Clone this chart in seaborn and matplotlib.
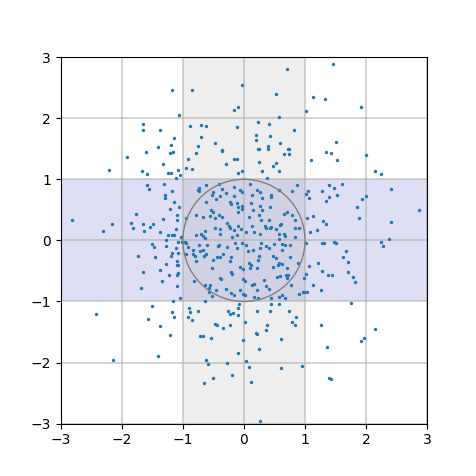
import matplotlib
matplotlib.use("Agg")
import matplotlib.pyplot as plt
import seaborn as sns
import pandas as pd
from matplotlib.patches import Circle

# points (x, y)
pts = [
    (-1.17, 2.46), (-1.07, 2.06), (-1.66, 1.90), (-1.66, 1.80), (-1.38, 1.80), (-1.15, 1.68),
    (-1.19, 1.56), (-1.41, 1.53),
    (0.71, 2.80), (-0.85, 2.46), (-0.04, 2.54), (0.53, 2.39), (-0.09, 2.19), (-0.17, 2.13),
    (0.57, 2.02), (1.01, 2.11), (-0.88, 1.88), (-0.70, 1.89), (-0.62, 1.88), (-0.11, 1.86),
    (0.23, 1.94), (0.41, 1.90), (0.82, 1.80), (0.19, 1.73), (0.42, 1.71), (-0.70, 1.69),
    (0.20, 1.64), (0.59, 1.60), (-0.48, 1.60), (-0.75, 1.55), (0.40, 1.54), (0.23, 1.49),
    (0.72, 1.49), (-0.36, 1.48),
    (1.46, 2.89), (1.13, 2.34), (1.33, 2.32), (1.92, 2.18), (1.50, 1.61),
    (-1.91, 1.37), (-1.61, 1.44), (-1.21, 1.43), (-1.16, 1.44), (-1.33, 1.25), (-2.21, 1.15),
    (-1.67, 1.13), (-1.58, 1.08), (-1.24, 1.11), (-1.20, 1.10), (-1.08, 1.15), (-1.05, 1.07),
    (-1.11, 1.02), (-1.58, 0.90), (-1.55, 0.84), (-1.31, 0.92), (-1.17, 0.81), (-1.30, 0.74),
    (-1.29, 0.69), (-1.15, 0.63), (-1.07, 0.54), (-1.21, 0.52), (-1.10, 0.41), (-1.77, 0.43),
    (-2.82, 0.34), (-1.85, 0.28), (-1.66, 0.27), (-1.49, 0.27), (-1.32, 0.35), (-1.10, 0.34),
    (-1.82, 0.21), (-1.54, 0.22), (-2.16, 0.26), (-2.30, 0.15), (-1.63, 0.15), (-1.37, 0.14),
    (-1.11, 0.18), (-1.24, 0.08), (-1.17, 0.09), (-1.15, 0.09), (-1.03, 0.06), (-1.28, 0.01),
    (-1.08, -0.02), (-1.02, -0.02),
    (-1.50, -0.06), (-1.47, -0.11), (-1.28, -0.10), (-1.11, -0.13), (-1.17, -0.21),
    (-1.19, -0.25), (-1.08, -0.21), (-1.74, -0.25), (-1.46, -0.28), (-1.10, -0.33),
    (-1.27, -0.38), (-1.08, -0.40), (-1.10, -0.41), (-1.38, -0.48), (-1.65, -0.51),
    (-1.08, -0.54), (-1.09, -0.56), (-1.23, -0.57), (-1.34, -0.66), (-1.69, -0.78),
    (-1.10, -0.74), (-1.04, -0.95), (-1.16, -1.00), (-1.50, -1.07), (-2.42, -1.20),
    (-1.17, -1.17), (-1.14, -1.26), (-1.57, -1.28), (-1.37, -1.40), (-1.21, -1.55),
    (-2.15, -1.96), (-1.40, -1.90),
    (-0.72, -1.56), (-0.67, -1.56), (-0.54, -1.60), (-0.02, -1.63), (0.21, -1.54),
    (0.61, -1.62), (0.24, -1.77), (-0.10, -1.85), (-0.62, -1.96), (-0.59, -2.03),
    (-0.27, -2.01), (0.04, -1.97), (0.09, -2.08), (0.61, -2.09), (0.95, -2.05),
    (-0.51, -2.25), (-0.20, -2.20), (-0.66, -2.33), (0.11, -2.32), (0.27, -2.96),
    (1.36, -1.74), (1.92, -1.64), (1.96, -1.60), (1.40, -2.26), (1.43, -2.27),
    (1.02, -0.05), (1.28, -0.04), (1.31, -0.05), (1.47, -0.02), (1.51, -0.04), (2.28, -0.10),
    (2.25, -0.02), (1.67, -0.18), (1.62, -0.28), (1.70, -0.35), (1.22, -0.37), (1.06, -0.42),
    (1.28, -0.50), (1.71, -0.51), (1.38, -0.56), (1.44, -0.57), (1.78, -0.60), (1.81, -0.68),
    (1.01, -0.55), (0.98, -0.62), (1.13, -0.73), (1.26, -0.81), (1.03, -0.85), (0.98, -0.85),
    (1.76, -1.02), (1.26, -1.39), (2.14, -1.45),
    (1.35, 1.45), (1.42, 1.43), (1.10, 1.31), (1.52, 1.32), (1.99, 1.39), (2.14, 1.13),
    (2.25, 1.09), (1.61, 0.93), (1.39, 0.90), (1.48, 0.85), (1.27, 0.81), (1.05, 0.81),
    (2.40, 0.84), (1.01, 0.76), (1.06, 0.70), (1.40, 0.71), (1.53, 0.74), (1.35, 0.64),
    (1.93, 0.67), (2.00, 0.73), (1.85, 0.55), (2.86, 0.49), (1.03, 0.37), (1.13, 0.40),
    (1.88, 0.37), (1.29, 0.32), (1.34, 0.26), (2.41, 0.30), (1.20, 0.17), (1.08, 0.13),
    (2.37, 0.02),
    (-0.79, 1.43), (-0.36, 1.46), (-0.92, 1.34), (-0.85, 1.17), (-0.95, 1.19), (-0.29, 1.25),
    (-0.16, 1.34), (-0.11, 1.34), (-0.10, 1.11), (-0.04, 1.13), (0.24, 1.49), (0.39, 1.50),
    (0.65, 1.42), (0.73, 1.42), (0.73, 1.49), (0.25, 1.29), (0.53, 1.26), (0.48, 1.22),
    (0.29, 1.14), (0.58, 1.13), (0.37, 1.02),
    (-0.74, 0.85), (-0.73, 0.81), (-0.76, 0.82), (-0.62, 0.90), (-0.41, 0.92), (-0.36, 0.84),
    (-0.30, 0.78), (-0.17, 0.87), (-0.06, 0.82), (-0.04, 0.79), (-0.50, 0.79), (-0.53, 0.74),
    (-0.39, 0.73), (-0.16, 0.73), (-0.62, 0.63), (-0.45, 0.67), (-0.23, 0.63), (-0.21, 0.59),
    (-0.12, 0.61), (-0.10, 0.54), (-0.03, 0.56), (-0.04, 0.52), (-0.10, 0.47), (-0.54, 0.49),
    (-0.51, 0.46), (-0.95, 0.37), (-0.79, 0.42), (-0.67, 0.39), (-0.55, 0.40), (-0.47, 0.37),
    (-0.41, 0.42), (-0.36, 0.39), (-0.28, 0.28), (-0.48, 0.20), (-0.39, 0.19), (-0.24, 0.24),
    (-0.23, 0.20), (-0.17, 0.17), (-0.09, 0.23), (-0.05, 0.19), (-0.64, 0.15), (-0.70, 0.11),
    (-0.79, 0.09), (-0.67, 0.07), (-0.64, 0.04), (-0.40, 0.10), (-0.20, 0.05), (-0.11, 0.08),
    (-1.03, 0.05), (-0.96, -0.02),
    (0.10, 0.92), (0.22, 0.82), (0.26, 0.79), (0.13, 0.74), (0.29, 0.69), (0.44, 0.75),
    (0.45, 0.71), (0.58, 0.82), (0.78, 0.81), (0.87, 0.90), (0.12, 0.62), (0.26, 0.57),
    (0.15, 0.50), (0.29, 0.50), (0.42, 0.54), (0.70, 0.46), (0.66, 0.43), (0.08, 0.38),
    (0.25, 0.42), (0.28, 0.34), (0.41, 0.34), (0.78, 0.42), (0.83, 0.34), (0.13, 0.24),
    (0.34, 0.24), (0.36, 0.20), (0.42, 0.20), (0.45, 0.22), (0.59, 0.25), (0.61, 0.27),
    (0.52, 0.18), (0.16, 0.14), (0.26, 0.11), (0.04, 0.13), (0.57, 0.10), (0.65, 0.10),
    (0.83, 0.21), (0.90, 0.20), (0.67, 0.07), (0.83, 0.05), (0.58, 0.02),
    (-0.95, -0.04), (-0.92, -0.11), (-0.84, -0.16), (-0.83, -0.23), (-0.80, -0.26),
    (-0.79, -0.33), (-0.95, -0.22), (-0.73, -0.08), (-0.72, -0.18), (-0.67, -0.15),
    (-0.65, -0.25), (-0.60, -0.08), (-0.62, -0.22), (-0.51, -0.32), (-0.52, -0.46),
    (-0.44, -0.27), (-0.39, -0.28), (-0.35, -0.23), (-0.42, -0.09), (-0.41, -0.08),
    (-0.28, -0.11), (-0.21, -0.27), (-0.23, -0.33), (-0.12, -0.13), (-0.15, -0.04),
    (-0.04, -0.04), (-0.07, -0.44), (-0.02, -0.47), (0.04, -0.07), (0.07, -0.18),
    (0.14, -0.15), (0.26, -0.13), (0.28, -0.05), (0.36, -0.10), (0.41, -0.13), (0.50, -0.06),
    (0.62, -0.06), (0.68, -0.08), (0.75, -0.07), (0.63, -0.16), (0.24, -0.25), (0.23, -0.32),
    (0.48, -0.26), (0.52, -0.29), (0.75, -0.27), (0.55, -0.40), (0.58, -0.37), (0.62, -0.38),
    (0.71, -0.46), (0.89, -0.37), (0.09, -0.37), (0.11, -0.41), (0.10, -0.45), (0.22, -0.45),
    (0.47, -0.44), (-0.21, -0.51), (-0.19, -0.55), (-0.40, -0.62), (-0.37, -0.63),
    (-0.82, -0.67), (-0.01, -0.63), (0.01, -0.66), (0.13, -0.73), (0.16, -0.71), (0.33, -0.65),
    (0.54, -0.60), (0.59, -0.58), (0.69, -0.57), (0.72, -0.56), (0.70, -0.62), (0.77, -0.73),
    (-0.55, -0.73), (-0.58, -0.78), (-0.64, -0.73), (-0.30, -0.80), (-0.21, -0.86),
    (-0.16, -0.89), (-0.45, -0.81), (-0.07, -0.81), (0.21, -0.82), (0.36, -0.74), (0.41, -0.80),
    (-0.01, -0.88), (0.02, -0.90), (-0.57, -0.85), (-0.52, -0.91), (0.23, -0.95), (0.16, -0.92),
    (0.58, -0.92), (0.62, -0.89), (0.67, -0.95), (0.44, -0.95), (-0.64, -0.99), (0.90, -0.87),
    (0.97, -0.85),
    (-0.08, -1.04), (-0.10, -1.11), (-0.90, -1.10), (-0.88, -1.18), (-0.91, -1.26),
    (-0.85, -1.30), (-0.76, -1.15), (-0.26, -1.15), (-0.23, -1.21), (-0.18, -1.19),
    (-0.09, -1.22), (0.22, -1.15), (0.42, -1.15), (0.58, -1.04), (0.45, -1.04), (0.73, -1.15),
    (0.85, -1.26), (0.79, -1.34), (0.83, -1.39), (0.02, -1.33), (-0.48, -1.37), (-0.44, -1.39),
    (-0.35, -1.43), (-0.23, -1.39), (0.37, -1.39), (0.36, -1.46), (0.20, -1.52),
]
x = [p[0] for p in pts]
y = [p[1] for p in pts]
df = pd.DataFrame({"x": x, "y": y})

fig, ax = plt.subplots(figsize=(4.76, 4.76), dpi=100)
ax.axvspan(-1, 1, color="gray", alpha=0.13, lw=0)
ax.axhspan(-1, 1, color="#6a6acd", alpha=0.22, lw=0)
sns.scatterplot(data=df, x="x", y="y", ax=ax, s=6, color="C0", linewidth=0, zorder=3)
ax.add_patch(Circle((0, 0), 1, fill=False, edgecolor="gray", lw=1, zorder=4))
ax.grid(True, color="#b0b0b0", alpha=0.6, lw=1.3)
ax.set_xlim(-3, 3)
ax.set_ylim(-3, 3)
ax.set_aspect("equal")
ax.set_xlabel("")
ax.set_ylabel("")
fig.savefig("out.png")
